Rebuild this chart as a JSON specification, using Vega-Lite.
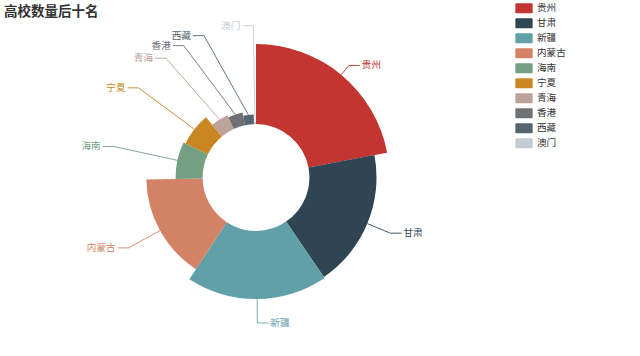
{
  "$schema": "https://vega.github.io/schema/vega-lite/v6.json",
  "width": 512,
  "height": 355,
  "autosize": {"type": "none"},
  "padding": {"left": 0, "top": 0, "right": 128, "bottom": 1},
  "background": "white",
  "title": {"text": "高校数量后十名", "anchor": "start", "frame": "group", "font": "Noto Sans CJK SC", "fontSize": 13.5, "fontWeight": "bold", "color": "#333333", "offset": 0, "dx": 4, "dy": 19},
  "config": {"view": {"stroke": null}},
  "data": {"values": [
    {"idx": 1, "name": "贵州", "value": 74},
    {"idx": 2, "name": "甘肃", "value": 62},
    {"idx": 3, "name": "新疆", "value": 63},
    {"idx": 4, "name": "内蒙古", "value": 52},
    {"idx": 5, "name": "海南", "value": 25},
    {"idx": 6, "name": "宁夏", "value": 23},
    {"idx": 7, "name": "青海", "value": 14},
    {"idx": 8, "name": "香港", "value": 12},
    {"idx": 9, "name": "西藏", "value": 9},
    {"idx": 10, "name": "澳门", "value": 2}
  ]},
  "transform": [
    {"joinaggregate": [{"op": "sum", "field": "value", "as": "total"}, {"op": "max", "field": "value", "as": "vmax"}]},
    {"window": [{"op": "sum", "field": "value", "as": "cum"}], "sort": [{"field": "idx", "order": "ascending"}], "frame": [null, 0]},
    {"calculate": "2*PI*(datum.cum-datum.value/2)/datum.total", "as": "mid"},
    {"calculate": "sin(datum.mid)>=0?1:-1", "as": "side"},
    {"calculate": "53.4+80.1*datum.value/datum.vmax", "as": "r1"},
    {"calculate": "datum.r1*sin(datum.mid)", "as": "p1x"},
    {"calculate": "datum.r1*cos(datum.mid)", "as": "p1y"},
    {"calculate": "145.5*cos(datum.mid)", "as": "yNat"},
    {"window": [{"op": "row_number", "as": "rn"}], "groupby": ["side"], "sort": [{"field": "yNat", "order": "descending"}]},
    {"calculate": "datum.yNat+(datum.rn-1)*10", "as": "z"},
    {"window": [{"op": "min", "field": "z", "as": "zmin"}], "groupby": ["side"], "sort": [{"field": "yNat", "order": "descending"}], "frame": [null, 0]},
    {"window": [{"op": "max", "field": "z", "as": "zmax"}], "groupby": ["side"], "sort": [{"field": "yNat", "order": "descending"}], "frame": [0, null]},
    {"calculate": "(datum.zmin+datum.zmax)/2-(datum.rn-1)*10", "as": "yAdj"},
    {"calculate": "abs(datum.yAdj-datum.yNat)", "as": "shift"},
    {"calculate": "datum.yAdj>=0?1:-1", "as": "semi"},
    {"calculate": "abs(datum.yAdj)/max(abs(cos(datum.mid)),0.01)", "as": "rBc"},
    {"calculate": "abs(datum.yAdj)", "as": "absY"},
    {"joinaggregate": [{"op": "max", "field": "shift", "as": "sideShift"}], "groupby": ["side"]},
    {"joinaggregate": [{"op": "argmax", "field": "absY", "as": "far"}], "groupby": ["side", "semi"]},
    {"calculate": "datum.sideShift>0.5 ? datum.side*145.5*sqrt(max(0,1-pow(datum.yAdj/datum.far.rBc,2))) : 145.5*sin(datum.mid)", "as": "x2"},
    {"calculate": "datum.x2+datum.side*11", "as": "x3"},
    {"calculate": "datum.x3+datum.side*2", "as": "xt"}
  ],
  "encoding": {
    "color": {
      "field": "name", "type": "nominal",
      "scale": {
        "domain": ["贵州", "甘肃", "新疆", "内蒙古", "海南", "宁夏", "青海", "香港", "西藏", "澳门"],
        "range": ["#c23531", "#2f4554", "#61a0a8", "#d48265", "#749f83", "#ca8622", "#bda29a", "#6e7074", "#546570", "#c4ccd3"]
      },
      "legend": {
        "orient": "none", "legendX": 515, "legendY": -0.65, "title": null, "padding": 0,
        "symbolType": "M-0.86,-0.58 L0.86,-0.58 A0.14,0.14 0 0 1 1,-0.44 L1,0.44 A0.14,0.14 0 0 1 0.86,0.58 L-0.86,0.58 A0.14,0.14 0 0 1 -1,0.44 L-1,-0.44 A0.14,0.14 0 0 1 -0.86,-0.58 Z",
        "symbolSize": 300, "symbolStrokeWidth": 0, "symbolOpacity": 1,
        "labelFont": "Noto Sans CJK SC", "labelFontSize": 9.6, "labelColor": "#333333", "labelOffset": 4, "rowPadding": 0
      }
    }
  },
  "layer": [
    {
      "mark": {"type": "arc"},
      "encoding": {
        "theta": {"field": "value", "type": "quantitative", "stack": true},
        "radius": {"field": "value", "type": "quantitative", "scale": {"type": "linear", "zero": true, "range": [53.4, 133.5]}},
        "order": {"field": "idx", "type": "quantitative"}
      }
    },
    {
      "mark": {"type": "rule", "strokeWidth": 0.9},
      "encoding": {
        "x": {"field": "p1x", "type": "quantitative", "scale": {"domain": [-256, 256], "nice": false, "zero": false}, "axis": null},
        "y": {"field": "p1y", "type": "quantitative", "scale": {"domain": [-177.5, 177.5], "nice": false, "zero": false}, "axis": null},
        "x2": {"field": "x2"},
        "y2": {"field": "yAdj"}
      }
    },
    {
      "mark": {"type": "rule", "strokeWidth": 0.9},
      "encoding": {
        "x": {"field": "x2", "type": "quantitative"},
        "y": {"field": "yAdj", "type": "quantitative"},
        "x2": {"field": "x3"},
        "y2": {"field": "yAdj"}
      }
    },
    {
      "transform": [{"filter": "datum.side > 0"}],
      "mark": {"type": "text", "align": "left", "baseline": "middle", "font": "Noto Sans CJK SC", "fontSize": 9.6},
      "encoding": {
        "x": {"field": "xt", "type": "quantitative"},
        "y": {"field": "yAdj", "type": "quantitative"},
        "text": {"field": "name"}
      }
    },
    {
      "transform": [{"filter": "datum.side < 0"}],
      "mark": {"type": "text", "align": "right", "baseline": "middle", "font": "Noto Sans CJK SC", "fontSize": 9.6},
      "encoding": {
        "x": {"field": "xt", "type": "quantitative"},
        "y": {"field": "yAdj", "type": "quantitative"},
        "text": {"field": "name"}
      }
    }
  ]
}
